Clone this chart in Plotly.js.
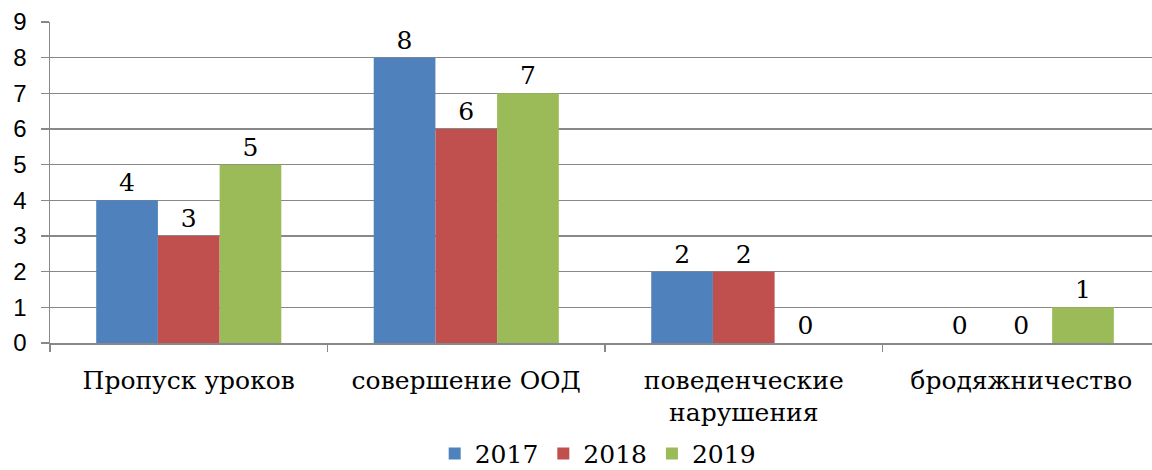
<!DOCTYPE html>
<html>
<head>
<meta charset="utf-8">
<script src="https://cdn.plot.ly/plotly-3.0.1.min.js"></script>
<style>html,body{margin:0;padding:0;background:#fff;}#chart{width:1152px;height:470px;}</style>
</head>
<body>
<div id="chart"></div>
<script>
const categories = ["Пропуск уроков", "совершение ООД", "поведенческие<br>нарушения", "бродяжничество"];
const years = ["2017", "2018", "2019"];
const values2017 = [4, 8, 2, 0];
const values2018 = [3, 6, 2, 0];
const values2019 = [5, 7, 0, 1];
const colors = ["#4F81BD", "#C0504D", "#9BBB59"];
const yTicks = [0, 1, 2, 3, 4, 5, 6, 7, 8, 9];

const serif = "DejaVu Serif, Liberation Serif, serif";
const series = [values2017, values2018, values2019];
const traces = series.map((vals, i) => ({
  type: "bar",
  name: years[i],
  x: categories,
  y: vals,
  marker: {color: colors[i]},
  text: vals.map(String),
  textposition: "outside",
  cliponaxis: false,
  textfont: {family: serif, size: 25, color: "#000"}
}));

const layout = {
  width: 1152, height: 470,
  margin: {l: 50, r: 0, t: 22, b: 127, autoexpand: false},
  paper_bgcolor: "#fff", plot_bgcolor: "#fff",
  barmode: "group", bargap: 0.333, bargroupgap: 0,
  showlegend: true,
  legend: {orientation: "h", x: 0.497, xanchor: "center", y: -0.345, yanchor: "middle",
    bgcolor: "rgba(0,0,0,0)",
    font: {family: serif, size: 25, color: "#000"}, traceorder: "normal", itemwidth: 30, tracegroupgap: 0},
  xaxis: {
    type: "category", range: [-0.5, 3.471], automargin: false,
    showline: true, linecolor: "#888", linewidth: 1.5,
    ticks: "outside", tickson: "boundaries", ticklen: 7, tickcolor: "#888", tickwidth: 1.5,
    ticklabelstandoff: 14,
    tickfont: {family: serif, size: 25, color: "#000"},
    showgrid: false, fixedrange: true
  },
  yaxis: {
    range: [0, 9], tickvals: yTicks, ticktext: yTicks.map(String), automargin: false,
    showline: true, linecolor: "#888", linewidth: 1.5,
    ticks: "outside", ticklen: 8, tickcolor: "#888", tickwidth: 1.5,
    ticklabelstandoff: 9,
    showgrid: true, gridcolor: "#888", gridwidth: 1.5,
    tickfont: {family: "Liberation Sans, Arial, sans-serif", size: 24, color: "#000"},
    zeroline: false, fixedrange: true
  }
};

Plotly.newPlot("chart", traces, layout, {displayModeBar: false, staticPlot: true});
</script>
</body>
</html>
